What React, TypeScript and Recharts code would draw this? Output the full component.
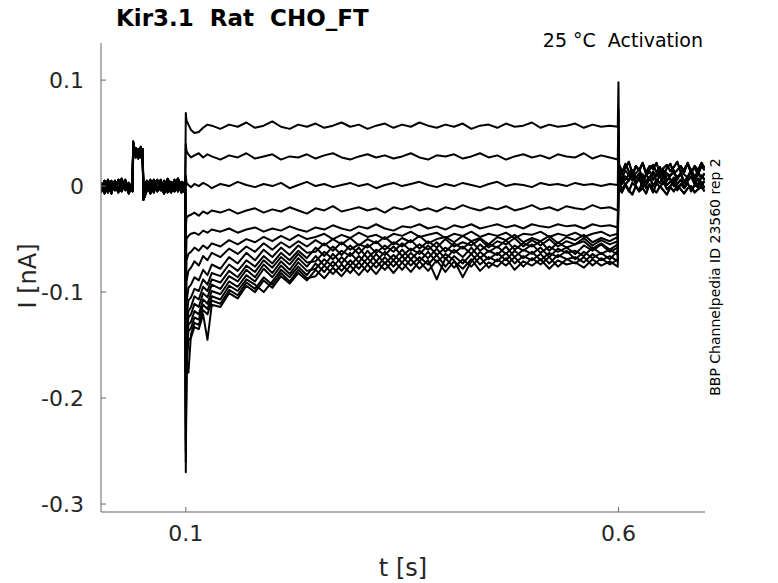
import React from "react";
import { Line, LineChart, XAxis, YAxis } from "recharts";

const FONT = "'DejaVu Sans', sans-serif";

// sample times (s)
const preTimes = [
  0.002, 0.006, 0.01, 0.014, 0.018, 0.022, 0.026, 0.03, 0.034, 0.0385, 0.0392, 0.042, 0.045, 0.048, 0.0502,
  0.051, 0.055, 0.059, 0.063, 0.067, 0.071, 0.075, 0.079, 0.083, 0.087, 0.091, 0.095, 0.0993,
];
const stepTimes = [
  0.1, 0.1008, 0.103, 0.106, 0.11, 0.115, 0.12, 0.125, 0.13, 0.14, 0.15, 0.16, 0.17, 0.18, 0.19, 0.2, 0.21,
  0.22, 0.23, 0.24, 0.25, 0.26, 0.27, 0.28, 0.29, 0.3, 0.31, 0.32, 0.33, 0.34, 0.35, 0.36, 0.37, 0.38, 0.39,
  0.4, 0.41, 0.42, 0.43, 0.44, 0.45, 0.46, 0.47, 0.48, 0.49, 0.5, 0.51, 0.52, 0.53, 0.54, 0.55, 0.56, 0.57,
  0.58, 0.59, 0.5992,
];
const pulseEndTime = 0.6;
const tailTimes = [
  0.6008, 0.604, 0.608, 0.612, 0.616, 0.62, 0.624, 0.628, 0.632, 0.636, 0.64, 0.644, 0.648, 0.652, 0.656,
  0.66, 0.664, 0.668, 0.672, 0.676, 0.68, 0.684, 0.688, 0.692, 0.696, 0.6995,
];

// currents in pA
const preTraces = [
  [-3, 5, -6, 2, -4, 6, -2, 3, -7, 1, 40, 30, 35, 27, 33, -13, -4, 3, -6, 5, -1, -7, 3, -3, 6, -5, 2, -3],
  [3, -5, 6, -3, 2, -6, 4, -2, 3, -5, 33, 36, 26, 34, 29, -7, 5, -3, 6, -5, 3, 1, -6, 4, -2, 3, -6, 4],
  [-6, 1, 3, -7, 5, -2, -5, 6, -3, 4, 42, 27, 31, 37, 25, -10, 2, -7, 1, 6, -4, 5, -2, -6, 2, 7, -3, -6],
  [2, -7, -1, 5, -3, 3, 7, -4, 0, -3, 36, 32, 29, 31, 35, -5, -2, 6, -4, -3, 6, -3, 7, 0, -5, -1, 4, 2],
];

const stepTraces = [
  [69, 62, 58, 53, 50, 51, 55, 58, 57, 54, 58, 56, 60, 55, 57, 61, 56, 54, 58, 56, 59, 55, 57, 60, 56, 58, 54, 57, 59, 55, 58, 56, 60, 57, 55, 58, 56, 59, 54, 57, 58, 55, 59, 56, 57, 60, 55, 58, 56, 57, 59, 55, 58, 56, 57, 56],
  [40, 33, 30, 27, 29, 31, 27, 30, 28, 25, 29, 27, 31, 26, 28, 30, 25, 28, 27, 30, 26, 29, 31, 27, 25, 28, 30, 27, 29, 26, 28, 31, 27, 25, 29, 28, 30, 26, 28, 31, 27, 29, 25, 28, 30, 27, 29, 26, 30, 28, 27, 31, 26, 29, 27, 25],
  [10, 3, 1, -1, 2, 0, 3, 1, -2, 2, 0, 4, 1, -1, 2, 0, 3, -2, 1, 4, 0, 2, -1, 1, 3, 0, 2, -2, 1, 3, 0, 2, 4, 1, -1, 2, 0, 3, 1, -1, 2, 4, 0, 2, 1, -1, 3, 1, 2, 0, 3, 1, 2, 0, 2, 1],
  [-40, -30, -28, -27, -25, -28, -24, -26, -23, -25, -22, -26, -23, -21, -25, -22, -24, -20, -23, -26, -21, -23, -19, -24, -22, -20, -23, -21, -25, -20, -22, -19, -23, -21, -24, -20, -22, -18, -21, -23, -20, -22, -19, -23, -21, -18, -22, -20, -23, -19, -21, -22, -18, -21, -20, -23],
  [-80, -50, -47, -45, -44, -46, -42, -44, -41, -43, -40, -44, -41, -39, -43, -40, -42, -38, -41, -43, -39, -41, -37, -40, -42, -38, -40, -36, -40, -42, -38, -39, -36, -40, -38, -41, -37, -39, -36, -40, -38, -36, -39, -37, -40, -36, -38, -39, -36, -38, -37, -40, -36, -38, -37, -39],
  [-110, -70, -64, -62, -58, -61, -56, -59, -54, -57, -51, -55, -50, -53, -48, -52, -47, -51, -46, -50, -48, -45, -50, -46, -49, -44, -48, -46, -50, -45, -47, -43, -48, -46, -44, -49, -45, -47, -43, -48, -45, -47, -44, -49, -45, -46, -43, -48, -45, -47, -44, -48, -45, -43, -47, -45],
  [-140, -90, -80, -77, -71, -75, -66, -70, -63, -67, -59, -64, -57, -62, -54, -60, -53, -58, -52, -57, -51, -56, -50, -55, -49, -56, -50, -54, -48, -55, -49, -53, -47, -54, -50, -48, -53, -47, -52, -49, -55, -48, -51, -46, -53, -49, -52, -47, -54, -48, -51, -46, -53, -49, -52, -48],
  [-170, -110, -96, -93, -86, -89, -79, -84, -74, -78, -67, -73, -63, -70, -60, -67, -58, -65, -56, -63, -62, -54, -61, -53, -60, -55, -58, -52, -60, -53, -57, -51, -59, -52, -58, -50, -57, -53, -56, -50, -58, -52, -55, -49, -57, -51, -56, -50, -57, -52, -55, -49, -56, -51, -55, -52],
  [-190, -125, -108, -105, -97, -99, -88, -93, -82, -85, -74, -80, -70, -76, -66, -73, -63, -70, -61, -68, -58, -66, -57, -65, -56, -64, -55, -63, -56, -62, -54, -61, -55, -60, -53, -62, -54, -59, -52, -61, -55, -58, -51, -60, -54, -57, -52, -61, -53, -58, -55, -52, -59, -54, -60, -55],
  [-210, -135, -118, -114, -104, -107, -95, -99, -88, -91, -80, -86, -75, -81, -70, -77, -67, -74, -64, -72, -71, -62, -69, -61, -66, -58, -68, -60, -65, -57, -66, -59, -64, -56, -65, -58, -63, -57, -64, -55, -62, -57, -64, -56, -61, -55, -63, -57, -62, -58, -64, -56, -61, -55, -62, -58],
  [-225, -145, -124, -121, -111, -114, -101, -105, -93, -97, -85, -90, -79, -86, -74, -82, -71, -79, -68, -76, -66, -75, -64, -73, -63, -72, -61, -71, -62, -70, -60, -69, -61, -68, -59, -69, -60, -67, -58, -68, -61, -65, -57, -67, -60, -64, -58, -67, -59, -63, -61, -66, -58, -64, -60, -65],
  [-240, -155, -131, -128, -118, -121, -107, -111, -99, -102, -90, -95, -84, -90, -78, -86, -75, -83, -72, -80, -78, -69, -76, -67, -75, -66, -74, -64, -73, -65, -72, -63, -71, -62, -72, -64, -70, -86, -71, -62, -69, -63, -70, -61, -68, -62, -70, -63, -67, -61, -69, -62, -68, -63, -69, -61],
  [-250, -160, -137, -134, -124, -126, -112, -116, -104, -107, -94, -99, -88, -93, -100, -90, -79, -86, -76, -84, -73, -81, -71, -80, -70, -78, -68, -77, -67, -76, -66, -75, -67, -74, -65, -76, -66, -73, -64, -74, -67, -71, -63, -73, -66, -70, -64, -73, -65, -69, -67, -72, -64, -70, -66, -71],
  [-260, -165, -176, -140, -129, -131, -117, -121, -108, -111, -98, -103, -91, -97, -86, -93, -82, -90, -79, -87, -85, -75, -83, -74, -82, -72, -81, -71, -79, -70, -79, -69, -78, -70, -88, -68, -77, -69, -76, -67, -77, -69, -75, -67, -76, -68, -74, -67, -76, -69, -73, -67, -75, -68, -74, -69],
  [-270, -170, -146, -143, -133, -135, -121, -145, -112, -114, -101, -106, -94, -100, -89, -96, -85, -92, -82, -89, -79, -87, -77, -85, -75, -84, -74, -83, -72, -82, -72, -81, -71, -80, -70, -81, -71, -78, -69, -80, -72, -76, -68, -79, -71, -75, -69, -78, -70, -74, -72, -77, -69, -75, -71, -76],
];

const tailSpikes = [98, 72, 50, 38, 30, 26, 24, 22, 20, 20, 18, 18, 16, 16, 15];

const tailTraces = [
  [18, 12, 21, 14, 9, 19, 15, 22, 11, 16, 20, 13, 18, 10, 17, 21, 12, 15, 19, 13, 22, 14, 17, 11, 19, 15],
  [8, 13, 6, 11, 15, 7, 12, 4, 10, 14, 6, 11, 9, 15, 5, 10, 13, 7, 12, 4, 9, 14, 6, 11, 8, 12],
  [3, 8, 1, 6, 10, 2, 7, -1, 5, 9, 0, 6, 3, 10, 1, 4, 8, 2, 6, -1, 5, 9, 2, 7, 0, 5],
  [4, -3, 2, -5, 3, 0, -4, 5, -2, 1, -6, 3, -1, 4, -3, 0, 5, -4, 2, -2, 3, -5, 1, -1, 4, -2],
  [12, 2, 9, 5, 14, 3, 8, 11, 1, 7, 13, 4, 10, 2, 12, 6, 0, 9, 11, 3, 8, 13, 5, 1, 10, 6],
  [20, 14, 17, 23, 12, 18, 15, 21, 13, 19, 16, 22, 11, 17, 20, 14, 18, 23, 13, 16, 21, 12, 19, 15, 22, 17],
  [-2, -6, 1, -4, -8, 0, -5, -2, -7, 2, -3, -6, 0, -4, -8, -1, -5, 1, -3, -7, -2, 0, -6, -3, -1, -5],
  [13, 7, 15, 10, 5, 12, 16, 8, 11, 6, 14, 9, 17, 7, 12, 10, 15, 6, 13, 11, 8, 16, 9, 14, 7, 12],
];

const xTicks = [0.1, 0.6];
const yTicks = [-0.3, -0.2, -0.1, 0, 0.1];

type Row = { t: number; [key: string]: number };

const rows: Row[] = [];
preTimes.forEach((t, i) => {
  const row: Row = { t };
  stepTraces.forEach((_, k) => {
    row[`s${k}`] = preTraces[k % preTraces.length][i] / 1000;
  });
  rows.push(row);
});
stepTimes.forEach((t, i) => {
  const row: Row = { t };
  stepTraces.forEach((trace, k) => {
    row[`s${k}`] = trace[i] / 1000;
  });
  rows.push(row);
});
{
  const row: Row = { t: pulseEndTime };
  tailSpikes.forEach((v, k) => {
    row[`s${k}`] = v / 1000;
  });
  rows.push(row);
}
tailTimes.forEach((t, i) => {
  const row: Row = { t };
  stepTraces.forEach((_, k) => {
    row[`s${k}`] = tailTraces[k % tailTraces.length][i] / 1000;
  });
  rows.push(row);
});

const tickStyle = { fill: "#262626", fontSize: 22, fontFamily: FONT };

export default function App() {
  return (
    <div style={{ position: "absolute", left: 0, top: 0, width: 778, height: 583, background: "#fff" }}>
      <LineChart width={778} height={583} data={rows} margin={{ top: 43, right: 73, bottom: 41, left: 41 }}>
        <XAxis
          dataKey="t"
          type="number"
          domain={[0.002, 0.7]}
          allowDataOverflow
          ticks={xTicks}
          tickFormatter={(v: number) => String(v)}
          height={30}
          tickSize={-5}
          tickMargin={18}
          stroke="#666"
          tick={tickStyle}
        />
        <YAxis
          type="number"
          domain={[-0.3075, 0.135]}
          allowDataOverflow
          ticks={yTicks}
          tickFormatter={(v: number) => (v === 0 ? "0" : String(v))}
          width={60}
          tickSize={-5}
          tickMargin={22}
          stroke="#666"
          tick={tickStyle}
        />
        {stepTraces.map((_, k) => (
          <Line
            key={k}
            type="linear"
            dataKey={`s${k}`}
            stroke="#000"
            strokeWidth={2}
            strokeLinejoin="round"
            dot={false}
            isAnimationActive={false}
          />
        ))}
      </LineChart>
      <svg
        width={778}
        height={583}
        style={{ position: "absolute", left: 0, top: 0, pointerEvents: "none", fontFamily: FONT }}
      >
        <text x={116} y={26} fontSize={23} fontWeight="bold" fill="#000" style={{ whiteSpace: "pre" }}>
          Kir3.1  Rat  CHO_FT
        </text>
        <text x={703} y={47} fontSize={19} textAnchor="end" fill="#000" style={{ whiteSpace: "pre" }}>
          25 °C  Activation
        </text>
        <text transform="translate(36,276) rotate(-90)" fontSize={24} textAnchor="middle" fill="#262626">
          I [nA]
        </text>
        <text x={403} y={576} fontSize={24} textAnchor="middle" fill="#262626">
          t [s]
        </text>
        <text transform="translate(720,277) rotate(-90)" fontSize={14} textAnchor="middle" fill="#000">
          BBP Channelpedia ID 23560 rep 2
        </text>
      </svg>
    </div>
  );
}
